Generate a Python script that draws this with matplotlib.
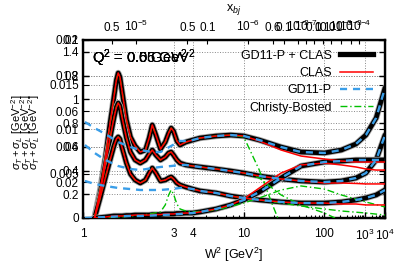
import numpy as np
import matplotlib
matplotlib.use("Agg")
import matplotlib.pyplot as plt
from matplotlib.lines import Line2D

plt.rcParams['font.family'] = ['Liberation Sans', 'DejaVu Sans']
plt.rcParams['mathtext.fontset'] = 'custom'
plt.rcParams['mathtext.rm'] = 'Liberation Sans'
plt.rcParams['mathtext.it'] = 'Liberation Sans:italic'
plt.rcParams['mathtext.bf'] = 'Liberation Sans:bold'

# W^2 grid [GeV^2]
W2 = [1.13, 1.2, 1.27, 1.34, 1.4, 1.44, 1.47, 1.5, 1.54, 1.62, 1.7, 1.8, 1.92, 2.05,
      2.15, 2.24, 2.35, 2.5, 2.67, 2.8, 2.9, 3.0, 3.15, 3.3, 3.6, 4.0, 4.5, 5.9, 7.7,
      10, 14, 24, 43, 100, 220, 520, 1100, 3000, 10000]

# GD11-P + CLAS, four Q^2 values
tot1 = [0, 0.236, 0.506, 0.801, 1.020, 1.163, 1.222, 1.188, 1.062, 0.826, 0.683, 0.607,
        0.556, 0.573, 0.674, 0.784, 0.699, 0.581, 0.640, 0.716, 0.758, 0.733, 0.649, 0.615,
        0.640, 0.657, 0.674, 0.691, 0.699, 0.691, 0.657, 0.598, 0.556, 0.548, 0.573, 0.624,
        0.699, 0.843, 1.096]
tot2 = [0, 0.211, 0.447, 0.674, 0.843, 0.935, 0.969, 0.944, 0.843, 0.674, 0.556, 0.489,
        0.463, 0.489, 0.539, 0.573, 0.531, 0.489, 0.514, 0.548, 0.556, 0.531, 0.489, 0.463,
        0.447, 0.438, 0.430, 0.413, 0.396, 0.379, 0.354, 0.329, 0.312, 0.303, 0.312, 0.337,
        0.379, 0.489, 0.699]
tot3 = [0, 0.169, 0.337, 0.489, 0.607, 0.666, 0.683, 0.666, 0.590, 0.463, 0.371, 0.320,
        0.295, 0.320, 0.379, 0.421, 0.379, 0.312, 0.320, 0.337, 0.346, 0.329, 0.295, 0.278,
        0.261, 0.244, 0.228, 0.211, 0.185, 0.169, 0.152, 0.135, 0.126, 0.126, 0.135, 0.152,
        0.169, 0.194, 0.236]
tot4 = [0, 0.004, 0.008, 0.013, 0.017, 0.017, 0.017, 0.017, 0.017, 0.021, 0.021, 0.025,
        0.025, 0.025, 0.025, 0.029, 0.029, 0.029, 0.034, 0.034, 0.034, 0.034, 0.038, 0.038,
        0.042, 0.042, 0.051, 0.076, 0.110, 0.152, 0.219, 0.337, 0.438, 0.472, 0.480, 0.489,
        0.489, 0.489, 0.489]

# CLAS alone: tails after the point where it leaves the combined curve
clas1_tail = [0.649, 0.573, 0.522, 0.497, 0.480, 0.472, 0.472, 0.472, 0.472]      # from W2=14
clas2_tail = [0.295, 0.295, 0.291, 0.287, 0.287, 0.287]                          # from W2=100
clas3_tail = [0.118, 0.118, 0.110, 0.110, 0.110]                                 # from W2=220
clas4_tail = [0.160, 0.253, 0.379, 0.447, 0.463, 0.447, 0.430, 0.413, 0.404, 0.404]  # from W2=10

# GD11-P alone at low W2 (joins the combined curve at W2=4)
W2_gd = [1.02, 1.13, 1.27, 1.47, 1.7, 1.92, 2.24, 2.5, 2.9, 3.3, 3.6]
gd1_low = [0.809, 0.758, 0.708, 0.640, 0.598, 0.573, 0.556, 0.556, 0.607, 0.649, 0.649]
gd2_low = [0.615, 0.548, 0.489, 0.438, 0.413, 0.404, 0.421, 0.430, 0.438, 0.447, 0.447]
gd3_low = [0.312, 0.287, 0.270, 0.253, 0.244, 0.236, 0.236, 0.236, 0.244, 0.253, 0.253]
gd4_low = [0, 0.004, 0.008, 0.013, 0.017, 0.017, 0.021, 0.025, 0.029, 0.034, 0.038]

# Christy-Bosted: tails after it leaves the combined curve
cb1_W2 = [10, 14, 19, 22]
cb1_tail = [0.683, 0.404, 0.120, 0.0]
cb2_W2 = [14, 24, 43, 100, 160]
cb2_tail = [0.337, 0.194, 0.110, 0.042, 0.0]
cb3_W2 = [14, 24, 43, 100, 220, 1100, 10000]
cb3_tail = [0.152, 0.126, 0.101, 0.076, 0.059, 0.042, 0.025]
cb4_W2 = [1.13, 1.5, 2.0, 2.5, 2.67, 2.8, 2.9, 3.0, 3.15, 3.3, 3.6, 4.0, 5.9, 10, 14, 24,
          43, 100, 220, 1100, 10000]
cb4 = [0, 0.008, 0.025, 0.051, 0.110, 0.194, 0.236, 0.202, 0.118, 0.076, 0.059, 0.051,
       0.067, 0.126, 0.169, 0.236, 0.270, 0.244, 0.194, 0.135, 0.093]

# axis texts
xticks_bot = [1, 3, 4, 10, 100, 1000, 10000]
xlabels_bot = ['1', '3', '4', '10', '100', '10$^3$', '10$^4$']
xticks_top = [1.37, 1.82, 3.69, 5.08, 10.9, 19.4, 25.8, 39, 50.5, 66.8, 94.4, 133, 216, 381, 650]
xlabels_top = ['0.5', '10$^{-5}$', '0.5', '0.1', '10$^{-6}$', '0.6', '0.1', '10$^{-2}$',
               '10$^{-7}$', '0.1', '0.1', '0.01', '10$^{-3}$', '10$^{-3}$', '10$^{-4}$']
q2_texts = ['Q$^2$ = 0.06 GeV$^2$', 'Q$^2$ = 0.5 GeV$^2$', 'Q$^2$ = 0.6 GeV$^2$',
            'Q$^2$ = 0.05 GeV$^{2}$']


def fwd(x):
    x = np.clip(np.asarray(x, float), 1e-3, None)
    return 1 - np.power(x, -0.3)


def inv(y):
    y = np.asarray(y, float)
    return np.power(np.clip(1 - y, 1e-6, None), -1 / 0.3)


fig = plt.figure(figsize=(4.07, 2.71), dpi=100)
rect = [83 / 407, 1 - 218 / 271, 302 / 407, 178 / 271]

# overlaid y axes of the other panels
overlays = [((0, 0.02), [0.005, 0.01, 0.015, 0.02], ['0.005', '0.01', '0.015', '0.02']),
            ((0, 0.1), [0.02, 0.04, 0.06, 0.08, 0.1], ['0.02', '0.04', '0.06', '0.08', '0.1'])]
for i, (lim, tk, lb) in enumerate(overlays):
    o = fig.add_axes(rect, zorder=1 + i)
    o.set_facecolor('none')
    o.set_xscale('function', functions=(fwd, inv))
    o.set_xlim(1, 1e4)
    o.set_xticks([])
    o.set_ylim(*lim)
    o.set_yticks(tk)
    o.set_yticklabels(lb)
    o.tick_params(axis='y', direction='in', length=4, right=True, labelsize=8.5, pad=3)
    o.yaxis.grid(True, ls=':', color='#888888', lw=0.7)
    for s in o.spines.values():
        s.set_visible(False)

ax = fig.add_axes(rect, zorder=5)
ax.set_facecolor('none')
ax.set_xscale('function', functions=(fwd, inv))
ax.set_xlim(1, 1e4)
ax.set_ylim(0, 1.5)

totals = [tot1, tot2, tot3, tot4]
clas = [tot1[:30] + clas1_tail, tot2[:33] + clas2_tail,
        tot3[:34] + clas3_tail, tot4[:29] + clas4_tail]
gd = [(W2_gd + W2[25:], g + t[25:]) for g, t in zip([gd1_low, gd2_low, gd3_low, gd4_low], totals)]
cb = [(W2[:29] + cb1_W2, tot1[:29] + cb1_tail),
      (W2[:30] + cb2_W2, tot2[:30] + cb2_tail),
      (W2[:30] + cb3_W2, tot3[:30] + cb3_tail),
      (cb4_W2, cb4)]

for t in totals:
    ax.plot(W2, t, color='#aaaaaa', lw=4.6, solid_capstyle='round', zorder=2)
    ax.plot(W2, t, color='black', lw=3.4, solid_capstyle='round', zorder=2)
for xw, yv in cb:
    ax.plot(xw, yv, color='#00c000', lw=1.0, dashes=(5, 2, 1, 2), zorder=3)
for c in clas:
    ax.plot(W2, c, color='#ff0000', lw=1.1, zorder=4)
for xw, yv in gd:
    ax.plot(xw, yv, color='#3a9ee8', lw=1.7, dashes=(3, 2.5), zorder=5)

ax.set_xticks(xticks_bot)
ax.set_xticklabels(xlabels_bot)
minor = [m * 10 ** e for e in range(4) for m in range(2, 10)]
ax.set_xticks([m for m in minor if m not in xticks_bot], minor=True)
ax.set_yticks(np.arange(0, 1.41, 0.2))
ax.set_yticklabels(['0', '0.2', '0.4', '0.6', '0.8', '1', '1.2', '1.4'])
ax.tick_params(which='both', direction='in', right=True, labelsize=8.5, pad=3)
ax.tick_params(which='major', length=4, width=1)
ax.tick_params(which='minor', length=2, width=0.8)
ax.tick_params(axis='x', pad=7)
ax.grid(True, which='major', ls=':', color='#888888', lw=0.7)
ax.set_axisbelow(True)
for s in ax.spines.values():
    s.set_linewidth(1.7)
ax.set_xlabel('W$^2$ [GeV$^2$]', fontsize=9, labelpad=2)

top = ax.twiny()
top.set_xscale('function', functions=(fwd, inv))
top.set_xlim(1, 1e4)
top.set_xticks(xticks_top)
top.set_xticklabels(xlabels_top)
top.tick_params(direction='in', length=3, labelsize=8.5, pad=4)
top.set_xlabel('x$_{bj}$', fontsize=9, labelpad=6)

for i, txt in enumerate(q2_texts):
    ax.text(0.03, 0.9, txt, transform=ax.transAxes, fontsize=10.5, va='center', ha='left')

for xf in [0.042, 0.063, 0.084]:
    fig.text(xf, 0.51, r'$\sigma_T+\sigma_L$ [GeV$^{-2}$]', rotation=90,
             ha='center', va='center', fontsize=8)

handles = [Line2D([], [], color='black', lw=3.8),
           Line2D([], [], color='#ff0000', lw=1.1),
           Line2D([], [], color='#3a9ee8', lw=1.7, dashes=(3, 2.5)),
           Line2D([], [], color='#00c000', lw=1.0, dashes=(5, 2, 1, 2))]
names = ['GD11-P + CLAS', 'CLAS', 'GD11-P', 'Christy-Bosted']
ax.legend(handles, names, loc='upper right', bbox_to_anchor=(0.96, 0.945), frameon=False,
          markerfirst=False, fontsize=9, handlelength=2.6, handletextpad=0.7,
          labelspacing=0.42, borderpad=0, borderaxespad=0)

fig.savefig('out.png', dpi=100)
